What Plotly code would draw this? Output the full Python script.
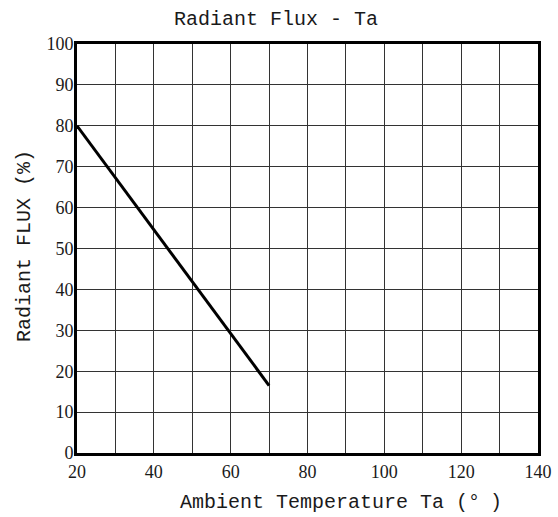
import plotly.graph_objects as go

temp_c = [20, 70]
radiant_flux_pct = [80, 16.5]
x_tick_vals = [20, 40, 60, 80, 100, 120, 140]
y_tick_vals = [0, 10, 20, 30, 40, 50, 60, 70, 80, 90, 100]

W, H = 558, 517
L, R, T, B = 77, 20, 44, 64

fig = go.Figure()
fig.add_trace(go.Scatter(x=temp_c, y=radiant_flux_pct, mode="lines",
                         line=dict(color="black", width=3), showlegend=False,
                         hoverinfo="skip"))

label_font = dict(family="Liberation Mono", size=20, color="#1a1a1a")
tick_font = dict(family="Liberation Serif", size=18, color="#1a1a1a")

pw, ph = W - L - R, H - T - B


def px(x):
    return (x - L) / pw


def py(y):
    return (H - B - y) / ph


fig.update_layout(
    width=W, height=H,
    margin=dict(l=L, r=R, t=T, b=B, autoexpand=False),
    paper_bgcolor="white", plot_bgcolor="white",
    xaxis=dict(range=[20, 140], tickvals=x_tick_vals,
               ticktext=[str(v) for v in x_tick_vals],
               showgrid=False, showline=True, linecolor="black", linewidth=3,
               mirror=True, ticks="", tickfont=tick_font, zeroline=False,
               automargin=False, fixedrange=True,
               minor=dict(dtick=10, tick0=20, showgrid=True, gridcolor="#333", gridwidth=1)),
    yaxis=dict(range=[0, 100], tickvals=y_tick_vals,
               showgrid=True, gridcolor="#333", gridwidth=1,
               showline=True, linecolor="black", linewidth=3,
               mirror=True, ticks="", tickfont=tick_font, zeroline=False,
               automargin=False, fixedrange=True, ticklabelstandoff=-3),
    annotations=[
        dict(text="Radiant Flux - Ta", xref="paper", yref="paper", x=px(276), y=py(20),
             showarrow=False, font=label_font, xanchor="center", yanchor="middle"),
        dict(text="Ambient Temperature Ta (°\u2002)", xref="paper", yref="paper",
             x=px(341), y=py(502),
             showarrow=False, font=label_font, xanchor="center", yanchor="middle"),
        dict(text="Radiant FLUX (%)", xref="paper", yref="paper", x=px(24), y=py(246),
             textangle=-90, showarrow=False, font=label_font,
             xanchor="center", yanchor="middle"),
    ],
)

fig.write_html("out.html", config={"displayModeBar": False},
               post_script="document.body.style.margin='0';document.body.style.padding='0';")
